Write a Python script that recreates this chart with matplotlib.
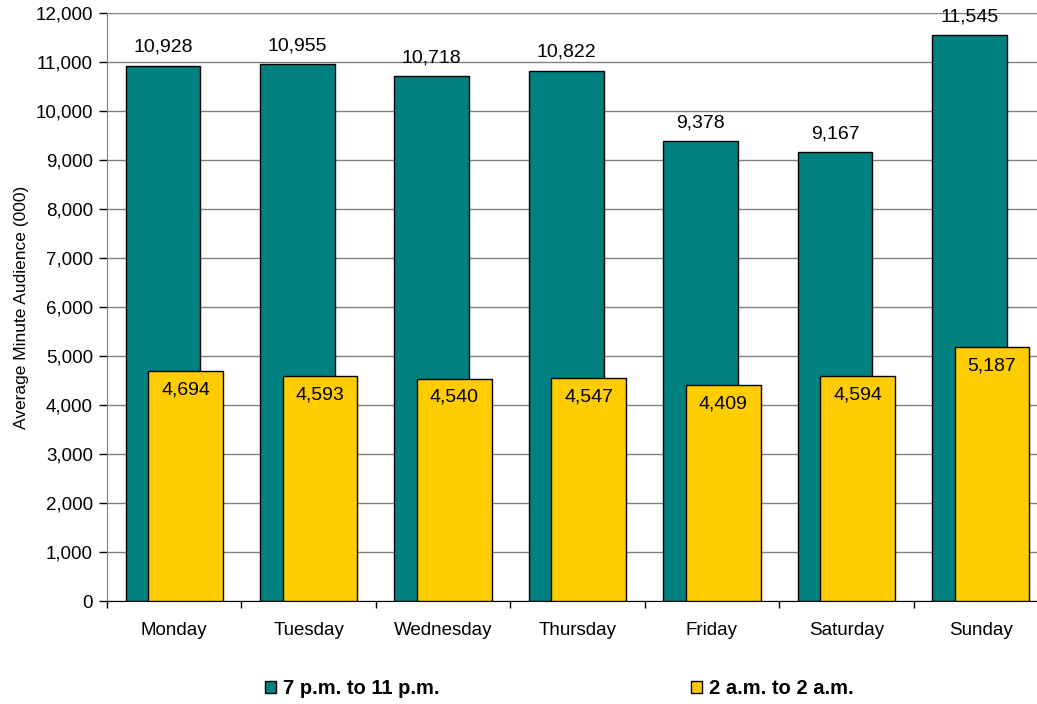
import matplotlib
matplotlib.use("Agg")
import matplotlib.pyplot as plt
from matplotlib.patches import Patch
import numpy as np

plt.rcParams['font.family'] = ['Liberation Sans', 'DejaVu Sans']

days = ["Monday", "Tuesday", "Wednesday", "Thursday", "Friday", "Saturday", "Sunday"]
prime = [10928, 10955, 10718, 10822, 9378, 9167, 11545]
allday = [4694, 4593, 4540, 4547, 4409, 4594, 5187]
series_names = ["7 p.m. to 11 p.m.", "2 a.m. to 2 a.m."]
teal = "#008080"
gold = "#FFCC00"

W, H = 1037, 704
fig = plt.figure(figsize=(W/100, H/100), dpi=100)
ax = fig.add_axes([107/W, 1-601/H, (1048-107)/W, (601-13)/H])

x = np.arange(len(days))
bw = 0.555
off = 0.084
ax.bar(x - off, prime, width=bw, color=teal, edgecolor="black", linewidth=1, zorder=2)
ax.bar(x + off, allday, width=bw, color=gold, edgecolor="black", linewidth=1, zorder=3)

for xi, v in zip(x, prime):
    ax.annotate(f"{v:,}", (xi - off, v), xytext=(0, 7), textcoords="offset points",
                ha="center", va="bottom", fontsize=14, zorder=4)
for xi, v in zip(x, allday):
    ax.annotate(f"{v:,}", (xi + off, v), xytext=(0, -7.5), textcoords="offset points",
                ha="center", va="top", fontsize=14, zorder=4)

ax.set_xlim(-0.5, len(days) - 0.5)
ax.set_ylim(0, 12000)
ax.set_yticks(np.arange(0, 12001, 1000))
ax.yaxis.set_major_formatter(matplotlib.ticker.FuncFormatter(lambda v, p: f"{int(v):,}"))
ax.set_xticks(x)
ax.set_xticklabels(days, fontsize=13.5)
ax.set_xticks(np.arange(-0.5, len(days), 1), minor=True)
ax.tick_params(axis="x", which="major", length=0, pad=15)
ax.tick_params(axis="x", which="minor", length=5, width=1, color="black")
ax.tick_params(axis="y", length=6, width=1, color="black", labelsize=13.5, pad=4)
ax.yaxis.grid(True, color="#808080", linewidth=1, zorder=0)
ax.set_axisbelow(True)
for s in ["top", "right"]:
    ax.spines[s].set_visible(False)
ax.spines["left"].set_color("#808080")
ax.spines["bottom"].set_color("black")
ax.set_ylabel("Average Minute Audience (000)", fontsize=12.5, labelpad=5)

handles = [Patch(facecolor=teal, edgecolor="black"), Patch(facecolor=gold, edgecolor="black")]
fig.legend(handles, series_names, loc="center left", bbox_to_anchor=(265/W, 1-689/H), ncol=2,
           frameon=False, prop={"weight": "bold", "size": 14.5}, handlelength=0.55,
           handleheight=0.55, handletextpad=0.35, columnspacing=12.5,
           borderpad=0, borderaxespad=0)

fig.savefig("out.png", dpi=100)
